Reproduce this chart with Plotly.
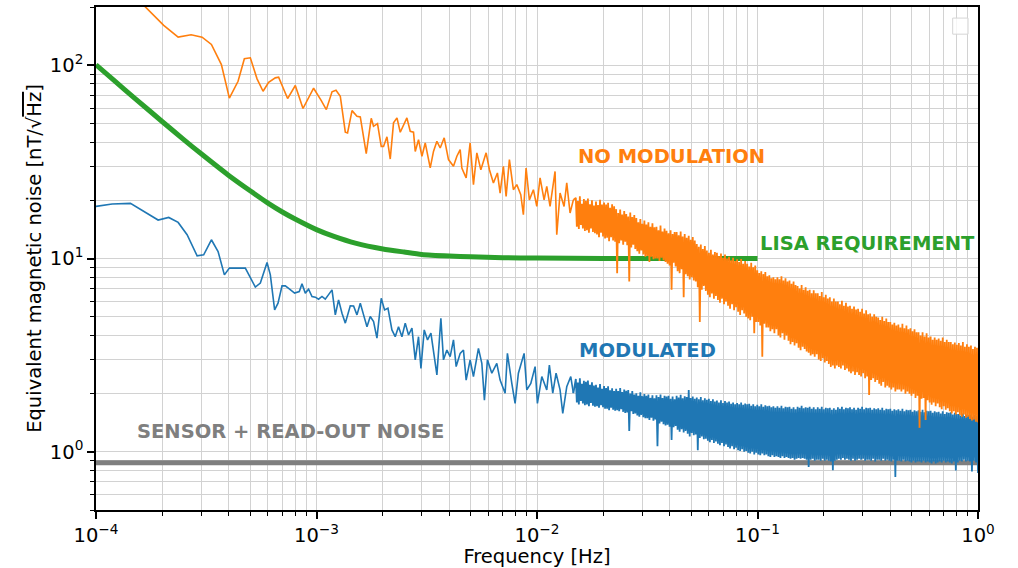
import numpy as np
import plotly.graph_objects as go

# ---------------- data ----------------
# Orange: NO MODULATION  (sparse low-frequency part)
orange_f = [1.0e-4, 1.2e-4, 1.44e-4, 2.028e-4, 2.358e-4, 2.700e-4, 3.028e-4, 3.337e-4, 3.704e-4, 4.026e-4,
            4.408e-4, 4.708e-4, 5.012e-4, 5.375e-4, 5.723e-4, 6.067e-4, 6.503e-4, 6.732e-4, 7.396e-4, 8.014e-4,
            8.685e-4, 9.703e-4, 1.048e-3, 1.108e-3, 1.176e-3, 1.226e-3, 1.282e-3, 1.351e-3, 1.383e-3, 1.449e-3,
            1.526e-3, 1.580e-3, 1.681e-3, 1.771e-3, 1.814e-3, 1.891e-3, 1.966e-3, 2.014e-3, 2.087e-3, 2.160e-3,
            2.235e-3, 2.317e-3, 2.398e-3, 2.570e-3,
            2.661e-3, 2.754e-3, 2.804e-3, 2.902e-3, 3.007e-3, 3.112e-3, 3.279e-3, 3.393e-3, 3.516e-3, 3.639e-3,
            3.794e-3, 3.968e-3, 4.180e-3, 4.331e-3, 4.483e-3, 4.563e-3, 4.772e-3, 4.975e-3, 5.150e-3, 5.336e-3,
            5.563e-3, 5.879e-3, 6.085e-3, 6.344e-3, 6.614e-3, 6.803e-3, 7.041e-3, 7.243e-3, 7.496e-3, 7.815e-3,
            8.097e-3, 8.442e-3, 8.674e-3, 8.922e-3, 9.234e-3, 9.631e-3, 9.979e-3, 1.0327e-2, 1.0767e-2, 1.1074e-2,
            1.1462e-2, 1.2076e-2, 1.2292e-2, 1.2723e-2, 1.3265e-2, 1.3644e-2, 1.4125e-2, 1.4619e-2]
orange_v = [340, 290, 238, 160.6, 139.7, 143.7, 139.7, 128.0, 100.8, 67.5,
            82.6, 108.0, 109.2, 85.0, 73.3, 81.6, 86.0, 86.7, 67.2, 78.5,
            59.7, 76.0, 65.9, 58.9, 72.8, 74.2, 69.1, 45.0, 44.6, 58.2,
            54.4, 54.0, 34.9, 53.1, 48.3, 49.9, 38.0, 38.0, 42.6, 32.7,
            50.3, 53.4, 45.0, 53.4,
            45.5, 45.0, 35.8, 41.2, 33.8, 39.6, 29.4, 35.8, 40.4, 37.3,
            42.1, 32.5, 30.0, 33.8, 36.6, 29.4, 26.1, 39.6, 24.1, 35.2,
            28.8, 35.2, 28.8, 24.6, 27.7, 21.8, 30.0, 20.95, 32.5, 22.7,
            24.1, 21.4, 16.84, 29.4, 20.1, 22.7, 18.6, 26.1, 20.1, 23.6,
            18.6, 28.2, 13.27, 21.8, 18.6, 24.6, 17.2, 20.1]

# Orange dense high-frequency part (0.015 Hz .. 1 Hz)
orange_dense_v = [
    20.6, 14.6, 19.8, 14.2, 21.0, 14.9, 19.2, 14.3, 20.3, 13.9,
    19.9, 14.0, 20.4, 13.6, 19.1, 14.3, 20.0, 13.7, 18.8, 13.5,
    19.7, 13.3, 18.9, 12.9, 20.1, 13.6, 19.0, 13.0, 19.5, 12.7,
    19.0, 12.8, 19.4, 12.3, 18.3, 12.9, 19.1, 12.4, 18.6, 12.2,
    18.0, 8.4, 17.2, 12.0, 17.9, 12.4, 16.9, 11.8, 17.6, 12.2,
    17.0, 11.7, 16.5, 7.6, 17.3, 11.4, 16.4, 11.8, 16.8, 11.2,
    16.2, 10.9, 15.4, 10.6, 16.0, 11.0, 15.1, 10.5, 15.7, 10.2,
    15.0, 10.3, 15.4, 9.6, 14.6, 10.2, 15.2, 9.9, 14.5, 10.0,
    14.6, 10.0, 14.0, 9.7, 14.8, 10.1, 13.8, 9.8, 14.3, 9.6,
    13.9, 9.4, 13.5, 9.2, 14.0, 6.9, 13.4, 9.5, 13.7, 9.1,
    13.7, 8.6, 13.2, 8.4, 13.8, 8.8, 13.0, 6.3, 13.4, 8.3,
    12.8, 8.1, 13.1, 7.8, 12.5, 8.0, 12.9, 7.7, 12.4, 7.6,
    11.9, 7.1, 11.5, 4.7, 11.8, 6.9, 11.2, 7.2, 11.6, 6.8,
    11.0, 6.5, 10.7, 6.3, 11.1, 6.6, 10.5, 6.2, 10.8, 6.4,
    10.7, 6.1, 10.3, 5.9, 10.6, 6.2, 10.1, 5.8, 10.5, 6.0,
    10.0, 5.7, 10.2, 5.5, 9.8, 5.8, 10.1, 5.4, 9.7, 5.6,
    9.9, 5.3, 9.6, 5.1, 9.95, 5.4, 9.4, 5.2, 9.7, 5.0,
    9.4, 4.9, 9.1, 4.8, 9.5, 5.0, 9.0, 4.1, 9.2, 4.7,
    8.7, 4.7, 8.4, 4.5, 8.6, 3.1, 8.3, 4.6, 8.5, 4.4,
    8.1, 4.4, 8.2, 4.2, 7.9, 4.3, 8.0, 4.1, 7.8, 4.3,
    8.0, 4.0, 7.8, 3.9, 8.1, 4.1, 7.7, 3.8, 7.9, 4.0,
    7.6, 3.75, 7.7, 3.6, 7.4, 3.7, 7.6, 3.55, 7.3, 3.65,
    7.2, 3.45, 7.0, 3.35, 7.3, 3.5, 6.9, 3.4, 7.1, 3.3,
    6.8, 3.25, 6.9, 3.15, 6.6, 3.2, 6.85, 3.1, 6.6, 3.2,
    6.6, 3.0, 6.4, 2.95, 6.7, 3.05, 6.3, 2.9, 6.5, 2.95,
    6.2, 2.85, 6.3, 2.75, 6.0, 2.8, 6.2, 2.7, 6.0, 2.8,
    6.0, 2.75, 5.8, 2.7, 6.05, 2.8, 5.7, 2.65, 5.9, 2.7,
    5.65, 2.6, 5.7, 2.55, 5.5, 2.6, 5.65, 2.5, 5.45, 2.58,
    5.5, 2.5, 5.3, 2.45, 5.5, 2.55, 5.2, 2.4, 5.4, 2.45,
    5.15, 1.97, 5.2, 2.35, 5.0, 2.4, 5.15, 2.3, 5.0, 2.35,
    4.95, 2.25, 4.8, 2.2, 5.0, 2.3, 4.75, 2.15, 4.9, 2.2,
    4.7, 2.15, 4.7, 2.1, 4.55, 2.15, 4.65, 2.05, 4.5, 2.1,
    4.55, 2.1, 4.4, 2.05, 4.6, 2.1, 4.35, 2.0, 4.5, 2.05,
    4.3, 2.0, 4.35, 1.95, 4.2, 2.0, 4.3, 1.9, 4.15, 1.95,
    4.15, 1.33, 4.0, 1.88, 4.15, 1.9, 3.95, 1.46, 4.1, 1.85,
    3.9, 1.8, 3.95, 1.75, 3.8, 1.8, 3.9, 1.72, 3.8, 1.78,
    3.85, 1.7, 3.75, 1.66, 3.9, 1.72, 3.7, 1.65, 3.8, 1.68,
    3.7, 1.62, 3.7, 1.58, 3.6, 1.62, 3.68, 1.56, 3.58, 1.6,
    3.65, 1.55, 3.55, 1.52, 3.7, 1.56, 3.5, 1.5, 3.6, 1.52,
    3.5, 1.48, 3.55, 1.45, 3.4, 1.47, 3.5, 1.43, 3.45, 1.42]

# Blue: MODULATED (sparse low-frequency part)
blue_f = [1.0e-4, 1.184e-4, 1.433e-4, 1.913e-4, 2.137e-4, 2.358e-4, 2.589e-4, 2.874e-4, 3.079e-4, 3.337e-4,
          3.578e-4, 3.822e-4, 4.026e-4, 4.756e-4, 5.280e-4, 5.563e-4, 5.966e-4, 6.175e-4, 6.458e-4, 6.691e-4,
          6.976e-4, 7.220e-4, 7.551e-4, 7.955e-4, 8.355e-4, 8.594e-4, 8.895e-4, 9.207e-4, 9.541e-4, 9.876e-4,
          1.022e-3, 1.059e-3, 1.096e-3, 1.135e-3, 1.176e-3, 1.217e-3, 1.259e-3, 1.305e-3, 1.351e-3, 1.423e-3,
          1.473e-3, 1.526e-3, 1.580e-3, 1.635e-3, 1.694e-3, 1.753e-3, 1.815e-3, 1.880e-3, 1.966e-3, 2.035e-3,
          2.109e-3, 2.198e-3, 2.275e-3, 2.355e-3, 2.440e-3, 2.526e-3, 2.615e-3, 2.709e-3,
          2.804e-3, 2.902e-3, 2.976e-3, 3.080e-3, 3.188e-3, 3.303e-3, 3.393e-3, 3.516e-3, 3.665e-3, 3.766e-3,
          3.902e-3, 4.039e-3, 4.180e-3, 4.299e-3, 4.483e-3, 4.640e-3, 4.772e-3, 4.975e-3, 5.150e-3, 5.425e-3,
          5.621e-3, 5.775e-3, 5.959e-3, 6.239e-3, 6.572e-3, 6.803e-3, 7.168e-3, 7.342e-3, 7.687e-3, 7.956e-3,
          8.234e-3, 8.740e-3, 8.991e-3, 9.374e-3, 9.804e-3, 1.0042e-2, 1.0516e-2, 1.1074e-2, 1.1379e-2, 1.1790e-2,
          1.2203e-2, 1.2723e-2, 1.3086e-2, 1.3644e-2, 1.4228e-2, 1.4619e-2]
blue_v = [18.6, 19.13, 19.27, 15.81, 16.31, 15.37, 13.27, 10.33, 10.45, 12.50,
          10.87, 8.23, 8.92, 8.92, 7.11, 7.46, 9.53, 8.23, 5.42, 5.87,
          7.22, 7.22, 6.94, 6.62, 6.75, 7.40, 6.62, 6.94, 6.36, 6.31,
          6.16, 6.36, 6.16, 6.56, 6.88, 5.11, 6.11, 5.21, 4.63, 5.69,
          5.68, 5.11, 5.87, 5.11, 4.44, 5.01, 4.72, 3.87, 6.23, 5.42,
          5.53, 4.27, 3.94, 4.44, 3.94, 4.63, 4.02, 4.36,
          2.99, 3.94, 2.70, 4.27, 3.79, 4.11, 3.36, 2.50, 4.91, 2.99,
          3.36, 3.11, 3.79, 2.76, 3.23, 3.36, 2.35, 2.99, 2.45, 3.43,
          2.87, 1.85, 2.99, 2.55, 2.87, 2.35, 2.01, 3.23, 2.26, 1.78,
          2.55, 3.23, 2.09, 2.26, 2.76, 1.78, 2.45, 2.09, 2.81, 2.01,
          2.55, 2.09, 1.58, 2.17, 2.45, 2.01]

# Blue dense high-frequency part (0.015 Hz .. 1 Hz)
blue_dense_v = [
    2.38, 1.80, 2.28, 1.76, 2.40, 1.83, 2.25, 1.78, 2.33, 1.74,
    2.30, 1.76, 2.34, 1.72, 2.22, 1.79, 2.29, 1.73, 2.20, 1.71,
    2.22, 1.72, 2.15, 1.69, 2.24, 1.74, 2.12, 1.70, 2.19, 1.67,
    2.14, 1.67, 2.18, 1.64, 2.08, 1.69, 2.13, 1.65, 2.06, 1.63,
    2.12, 1.64, 2.06, 1.62, 2.14, 1.66, 2.04, 1.61, 2.10, 1.59,
    2.07, 1.60, 2.09, 1.28, 2.00, 1.62, 2.06, 1.57, 1.98, 1.58,
    2.01, 1.54, 1.95, 1.52, 2.03, 1.55, 1.94, 1.51, 1.99, 1.49,
    1.95, 1.49, 1.98, 1.46, 1.90, 1.50, 1.96, 1.45, 1.89, 1.47,
    1.96, 1.07, 1.92, 1.40, 1.98, 1.43, 1.90, 1.39, 1.95, 1.37,
    1.93, 1.38, 1.95, 1.35, 1.88, 1.15, 1.93, 1.34, 1.87, 1.36,
    1.95, 1.30, 1.91, 1.27, 1.97, 1.31, 1.89, 1.26, 1.94, 1.28,
    1.92, 1.24, 2.09, 1.20, 1.90, 1.25, 1.93, 1.22, 1.88, 1.23,
    1.91, 1.02, 1.87, 1.18, 1.92, 1.20, 1.85, 1.16, 1.89, 1.17,
    1.86, 1.14, 1.88, 1.12, 1.83, 1.15, 1.87, 1.11, 1.82, 1.13,
    1.84, 1.10, 1.80, 1.08, 1.85, 1.11, 1.79, 1.07, 1.83, 1.09,
    1.80, 1.06, 1.82, 1.04, 1.77, 1.07, 1.80, 1.03, 1.76, 1.05,
    1.79, 1.02, 1.76, 1.01, 1.80, 1.03, 1.75, 1.00, 1.78, 1.01,
    1.76, 0.99, 1.77, 0.98, 1.73, 1.00, 1.76, 0.97, 1.72, 0.99,
    1.75, 0.97, 1.72, 0.96, 1.76, 0.98, 1.71, 0.96, 1.74, 0.97,
    1.72, 0.95, 1.73, 0.94, 1.70, 0.96, 1.72, 0.94, 1.69, 0.95,
    1.72, 0.94, 1.69, 0.93, 1.73, 0.95, 1.68, 0.93, 1.71, 0.94,
    1.70, 0.93, 1.71, 0.92, 1.67, 0.93, 1.70, 0.91, 1.66, 0.92,
    1.71, 0.93, 1.69, 0.92, 1.73, 0.93, 1.68, 0.92, 1.70, 0.91,
    1.69, 0.834, 1.71, 0.91, 1.67, 0.92, 1.70, 0.90, 1.66, 0.91,
    1.70, 0.91, 1.67, 0.90, 1.71, 0.92, 1.66, 0.90, 1.69, 0.91,
    1.68, 0.90, 1.69, 0.89, 1.65, 0.804, 1.68, 0.90, 1.65, 0.91,
    1.70, 0.92, 1.67, 0.91, 1.71, 0.93, 1.66, 0.91, 1.69, 0.92,
    1.68, 0.91, 1.70, 0.90, 1.66, 0.92, 1.69, 0.90, 1.65, 0.91,
    1.69, 0.92, 1.67, 0.91, 1.71, 0.92, 1.66, 0.90, 1.69, 0.91,
    1.68, 0.91, 1.69, 0.90, 1.65, 0.92, 1.68, 0.89, 1.66, 0.91,
    1.68, 0.91, 1.65, 0.90, 1.69, 0.92, 1.64, 0.90, 1.67, 0.91,
    1.66, 0.90, 1.67, 0.89, 1.63, 0.91, 1.66, 0.74, 1.64, 0.90,
    1.66, 0.90, 1.63, 0.89, 1.67, 0.91, 1.62, 0.89, 1.65, 0.90,
    1.64, 0.89, 1.65, 0.88, 1.61, 0.90, 1.64, 0.88, 1.62, 0.89,
    1.64, 0.89, 1.61, 0.88, 1.65, 0.90, 1.60, 0.88, 1.63, 0.89,
    1.62, 0.88, 1.63, 0.87, 1.59, 0.89, 1.62, 0.87, 1.60, 0.88,
    1.61, 0.89, 1.58, 0.88, 1.62, 0.90, 1.57, 0.88, 1.60, 0.89,
    1.59, 0.88, 1.60, 0.87, 1.56, 0.89, 1.59, 0.80, 1.57, 0.88,
    1.57, 0.90, 1.54, 0.89, 1.58, 0.91, 1.53, 0.89, 1.56, 0.90,
    1.55, 0.89, 1.56, 0.79, 1.52, 0.90, 1.55, 0.88, 1.53, 0.776]

dense_f_start = 0.015
dense_f_end = 1.0

# Green: LISA requirement
lisa_f = [1e-4, 1.2e-4, 1.5e-4, 2e-4, 2.5e-4, 3e-4, 4e-4, 5e-4, 6e-4, 7e-4, 8e-4, 1e-3, 1.2e-3,
          1.5e-3, 2e-3, 2.5e-3, 3e-3, 4e-3, 5e-3, 7e-3, 1e-2, 2e-2, 5e-2, 1e-1]
lisa_v = [100.5, 83.9, 67.4, 51.0, 41.2, 34.8, 26.9, 22.4, 19.4, 17.4, 16.0, 14.1, 13.0,
          12.0, 11.2, 10.8, 10.5, 10.3, 10.2, 10.1, 10.05, 10.01, 10.0, 10.0]

# Gray: sensor + read-out noise
sensor_f = [1e-4, 1.0]
sensor_v = [0.877, 0.877]

x_major = [1e-4, 1e-3, 1e-2, 1e-1, 1.0]
x_labels = ["10<sup>\u22124</sup>", "10<sup>\u22123</sup>", "10<sup>\u22122</sup>", "10<sup>\u22121</sup>", "10<sup>0</sup>"]
y_major = [1, 10, 100]
y_labels = ["10<sup>0</sup>", "10<sup>1</sup>", "10<sup>2</sup>"]

labels = [
    ("NO MODULATION", 0.01504, 33.6, "#ff7f0e"),
    ("LISA REQUIREMENT", 0.1004, 11.9, "#2ca02c"),
    ("MODULATED", 0.01520, 3.33, "#1f77b4"),
    ("SENSOR + READ-OUT NOISE", 0.000151, 1.28, "#7f7f7f"),
]

# ---------------- build figure ----------------
dense_f = np.geomspace(dense_f_start, dense_f_end, len(orange_dense_v))
dense_fb = np.geomspace(dense_f_start, dense_f_end, len(blue_dense_v))

FONT = "DejaVu Sans"
FS = 19.5
LW = 1.6
LW_DENSE = 1.8

fig = go.Figure()
fig.add_trace(go.Scatter(x=sensor_f, y=sensor_v, mode="lines", line=dict(color="#7f7f7f", width=5)))
fig.add_trace(go.Scatter(x=lisa_f, y=lisa_v, mode="lines",
                         line=dict(color="#2ca02c", width=5, shape="spline", smoothing=0.6)))
# blue
fig.add_trace(go.Scatter(x=blue_f, y=blue_v, mode="lines", line=dict(color="#1f77b4", width=LW)))
fig.add_trace(go.Scatter(x=[blue_f[-1]] + list(dense_fb), y=[blue_v[-1]] + list(blue_dense_v), mode="lines",
                         line=dict(color="#1f77b4", width=LW_DENSE)))
# orange
fig.add_trace(go.Scatter(x=orange_f, y=orange_v, mode="lines", line=dict(color="#ff7f0e", width=LW)))
fig.add_trace(go.Scatter(x=[orange_f[-1]] + list(dense_f), y=[orange_v[-1]] + list(orange_dense_v), mode="lines",
                         line=dict(color="#ff7f0e", width=LW_DENSE)))

for txt, fx, vy, col in labels:
    fig.add_annotation(x=np.log10(fx), y=np.log10(vy), xref="x", yref="y", text="<b>" + txt + "</b>",
                       showarrow=False, xanchor="left", yanchor="middle",
                       font=dict(family=FONT, size=FS, color=col))


def minor_vals(lo_exp, hi_exp, upper):
    out = []
    for e in range(lo_exp, hi_exp + 1):
        for m in range(2, 10):
            v = m * 10.0 ** e
            if v <= upper * 1.0001:
                out.append(v)
    return out


grid_col = "#d2d2d2"
axis_common = dict(type="log", showline=True, linecolor="black", linewidth=1.5, mirror=True,
                   ticks="outside", ticklen=7, tickwidth=1.5, tickcolor="black", automargin=False,
                   showgrid=True, gridcolor=grid_col, gridwidth=1.2, zeroline=False,
                   tickfont=dict(family=FONT, size=FS, color="black"))

fig.update_xaxes(**axis_common, range=[-4, 0], tickmode="array", tickvals=x_major, ticktext=x_labels,
                 minor=dict(tickmode="array", tickvals=minor_vals(-4, -1, 1.0), ticks="outside", ticklen=4,
                            tickwidth=1.2, tickcolor="black", showgrid=True, gridcolor=grid_col, gridwidth=1.2),
                 title=dict(text="Frequency [Hz]", font=dict(family=FONT, size=FS, color="black"), standoff=2))
fig.update_yaxes(**axis_common, range=[np.log10(0.5), np.log10(200)], tickmode="array", tickvals=y_major,
                 ticktext=y_labels,
                 minor=dict(tickmode="array", tickvals=[0.5, 0.6, 0.7, 0.8, 0.9] + minor_vals(0, 2, 200),
                            ticks="outside", ticklen=4, tickwidth=1.2, tickcolor="black", showgrid=True,
                            gridcolor=grid_col, gridwidth=1.2),
                 title=dict(text="Equivalent magnetic noise [nT/\u221a<span style='text-decoration:overline'>Hz</span>]",
                            font=dict(family=FONT, size=FS, color="black"), standoff=3))

# empty legend frame (top right)
fig.add_shape(type="rect", xref="paper", yref="paper", x0=0.9713, x1=0.9887, y0=0.946, y1=0.978,
              line=dict(color="#d5d5d5", width=1), fillcolor="rgba(255,255,255,0.8)", layer="above")

fig.update_layout(width=1018, height=568, showlegend=False,
                  margin=dict(l=95.5, r=39.7, t=7.3, b=58),
                  paper_bgcolor="white", plot_bgcolor="white",
                  font=dict(family=FONT, size=FS, color="black"))

fig.write_html("out.html", config={"displayModeBar": False})
